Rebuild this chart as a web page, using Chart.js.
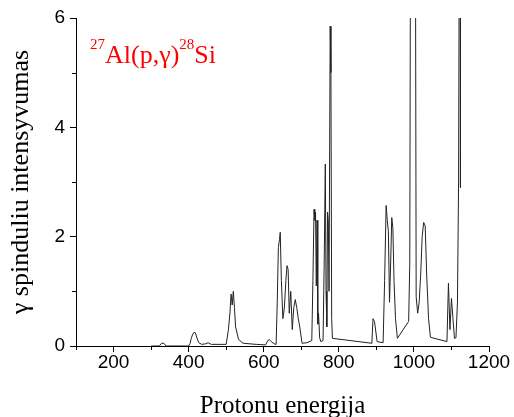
<!DOCTYPE html>
<html>
<head>
<meta charset="utf-8">
<script src="https://cdn.jsdelivr.net/npm/chart.js@4"></script>
<style>
  body { margin: 0; background: #fff; }
  #wrap { position: relative; width: 514px; height: 417px; }
  #label { position: absolute; left: 90px; top: 42px; color: red; font: 26px "Liberation Serif"; line-height: 26px; white-space: nowrap; }
  #label .sup { font-size: 15px; position: relative; top: -14px; }
</style>
</head>
<body>
<div id="wrap">
  <canvas id="spectrum" width="514" height="417"></canvas>
  <div id="label"><span class="sup">27</span>Al(p,γ)<span class="sup">28</span>Si</div>
</div>
<script>
// proton energy (keV) and gamma yield
const energy = [300, 322, 328, 334, 340, 400, 404, 407, 410, 414, 418, 422, 427, 435, 445, 452, 460, 500,
  506, 510, 513, 516, 519, 522, 525, 533, 545, 580, 605, 611, 615, 620, 628, 633,
  636, 639, 642, 644, 647, 651, 655, 659, 662, 665, 668, 672, 676, 680, 684, 688, 692, 696, 702,
  715, 728, 731, 734, 736, 738, 740, 742, 744, 746, 749, 752, 758,
  761, 764, 766, 768, 770, 772, 774, 777, 779, 781, 783, 830, 888, 891, 895, 902, 918,
  922, 926, 929, 932, 935, 938, 941, 944, 947, 951, 956, 986, 989, 991, 1004, 1006, 1010, 1014,
  1018, 1022, 1026, 1030, 1034, 1039, 1044, 1088, 1092, 1096, 1100, 1104, 1108, 1112, 1116,
  1119, 1121, 1123, 1124];
const intensity = [0, 0, 0.05, 0.05, 0, 0, 0.05, 0.14, 0.2, 0.25, 0.24, 0.15, 0.06, 0.03, 0.04, 0.06, 0.03, 0.03,
  0.3, 0.6, 0.95, 0.75, 1.0, 0.7, 0.35, 0.12, 0.05, 0.03, 0.02, 0.1, 0.12, 0.08, 0.04, 0.03,
  0.8, 1.8, 1.95, 2.08, 1.2, 0.5, 0.7, 1.2, 1.47, 1.4, 0.6, 1.0, 0.3, 0.7, 0.85, 0.7, 0.5, 0.35, 0.05,
  0.06, 0.1, 1.2, 2.5, 2.3, 2.45, 1.1, 2.3, 0.4, 0.6, 0.15, 0.08, 0.1,
  1.5, 3.33, 1.0, 0.35, 2.45, 2.3, 1.0, 5.85, 5.0, 0.5, 0.14, 0.1, 0.05, 0.5, 0.45, 0.08, 0.06,
  1.2, 2.57, 2.3, 2.1, 0.8, 1.5, 2.35, 2.15, 1.2, 0.5, 0.14, 0.45, 1.5, 8, 8, 0.9, 0.6, 0.8,
  1.3, 2.0, 2.26, 2.2, 1.3, 0.5, 0.16, 0.08, 1.15, 0.3, 0.87, 0.5, 0.14, 0.15, 0.8,
  3, 8, 8, 2.9];

const xTicks = [200, 400, 600, 800, 1000, 1200];
const xMinor = [100, 300, 500, 700, 900, 1100];
const yTicks = [0, 2, 4, 6];
const yMinor = [1, 3, 5];

const minorTicks = {
  id: "minorTicks",
  afterDraw(chart) {
    const ctx = chart.ctx;
    const x = chart.scales.x, y = chart.scales.y;
    ctx.save();
    ctx.strokeStyle = "#000";
    ctx.lineWidth = 1;
    ctx.beginPath();
    xMinor.forEach(v => {
      const px = Math.round(x.getPixelForValue(v)) + 0.5;
      ctx.moveTo(px, x.top);
      ctx.lineTo(px, x.top + 4);
    });
    yMinor.forEach(v => {
      const py = Math.round(y.getPixelForValue(v)) + 0.5;
      ctx.moveTo(y.right, py);
      ctx.lineTo(y.right - 4, py);
    });
    ctx.stroke();
    ctx.restore();
  }
};

new Chart(document.getElementById("spectrum"), {
  type: "line",
  data: {
    datasets: [{
      data: energy.map((e, i) => ({ x: e, y: intensity[i] })),
      borderColor: "#222",
      borderWidth: 1,
      pointRadius: 0,
      tension: 0,
      fill: false
    }]
  },
  options: {
    responsive: false,
    animation: false,
    layout: { padding: { top: 18, right: 25, left: 0, bottom: 0 } },
    plugins: { legend: { display: false }, tooltip: { enabled: false } },
    scales: {
      x: {
        type: "linear",
        min: 100,
        max: 1200,
        afterBuildTicks: s => { s.ticks = xTicks.map(v => ({ value: v })); },
        afterFit: s => { s.height = 71; },
        border: { color: "#000", width: 1 },
        grid: { drawOnChartArea: false, drawTicks: true, tickLength: 6, tickColor: "#000" },
        ticks: { color: "#000", padding: -1, maxRotation: 0, callback: v => String(v),
          font: { family: "Liberation Sans", size: 19 } },
        title: { display: true, text: "Protonu energija", color: "#000",
          font: { family: "Liberation Serif", size: 25, lineHeight: 1.2 }, padding: { top: 0, bottom: -4 } }
      },
      y: {
        min: 0,
        max: 6,
        afterBuildTicks: s => { s.ticks = yTicks.map(v => ({ value: v })); },
        afterFit: s => { s.width = 76; },
        border: { color: "#000", width: 1 },
        grid: { drawOnChartArea: false, drawTicks: true, tickLength: 6, tickColor: "#000" },
        ticks: { color: "#000", padding: 5, callback: v => String(v),
          font: { family: "Liberation Sans", size: 19 } },
        title: { display: true, text: "γ spinduliu intensyvumas", color: "#000",
          font: { family: "Liberation Serif", size: 26, lineHeight: 1.2 }, padding: { top: 6, bottom: 0 } }
      }
    }
  },
  plugins: [minorTicks]
});
</script>
</body>
</html>
